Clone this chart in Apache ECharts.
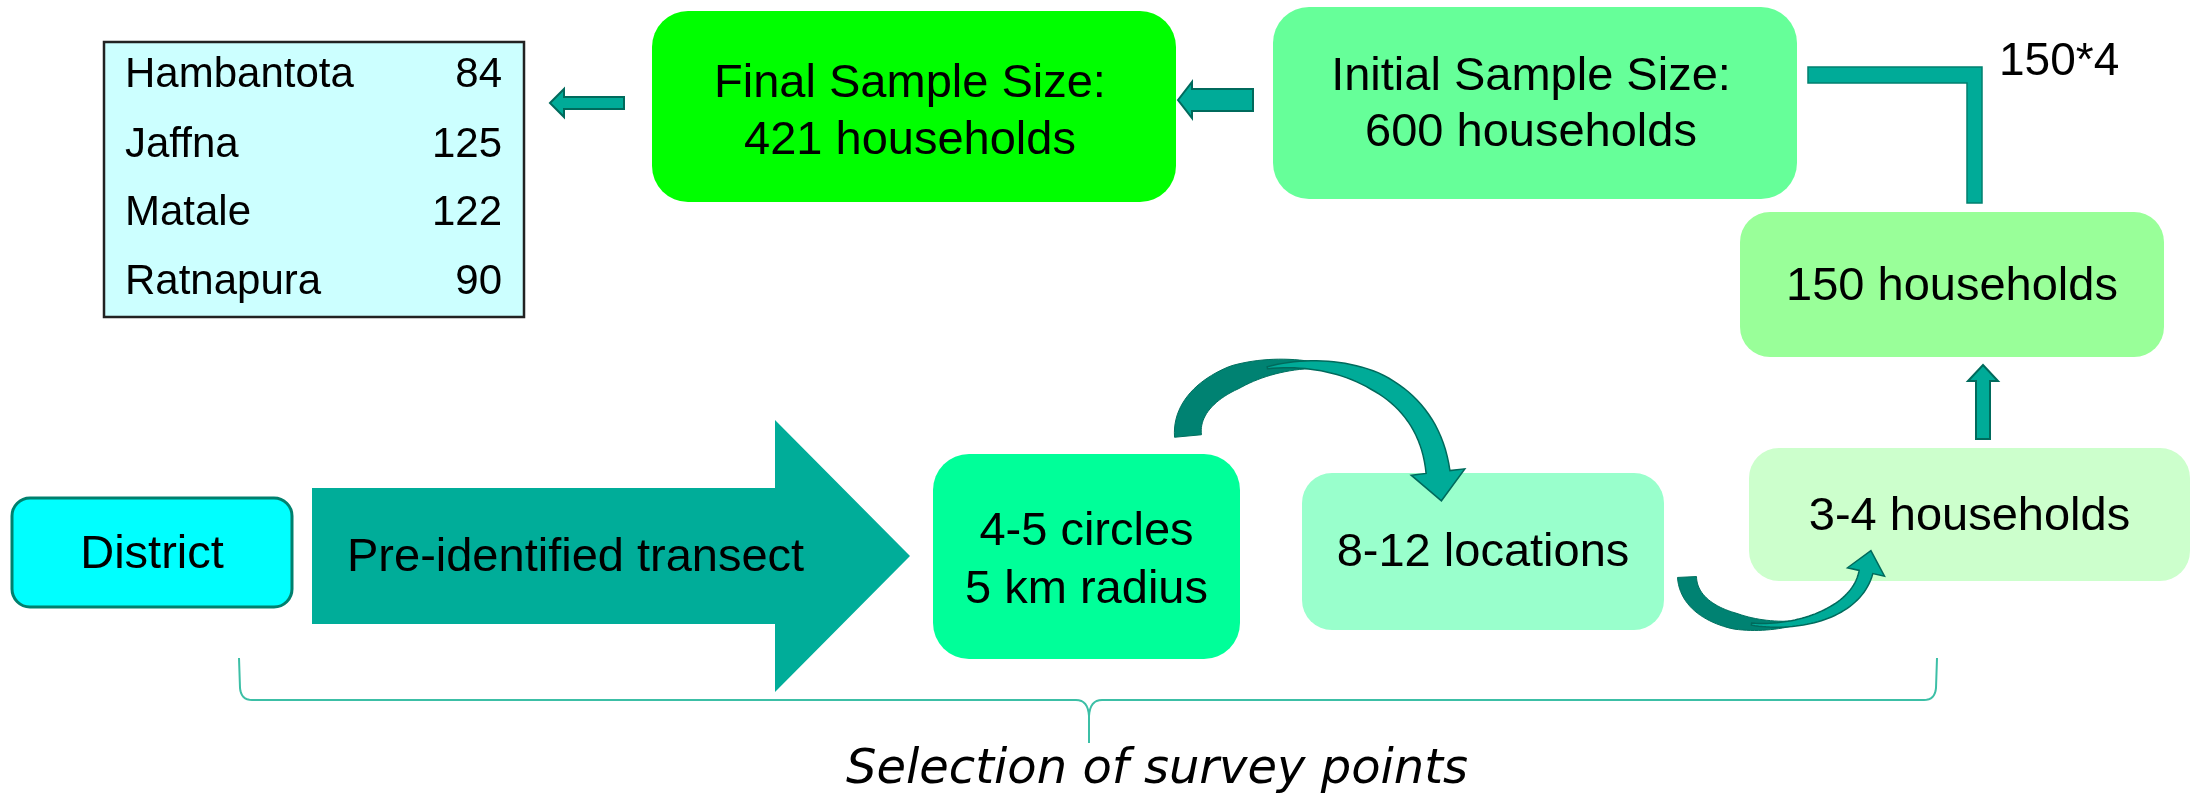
<!DOCTYPE html>
<html lang="en">
<head>
<meta charset="UTF-8">
<script src="https://cdn.jsdelivr.net/npm/echarts@6/dist/echarts.min.js"></script>
<style>
    html, body { margin: 0; padding: 0; background: #fff; }
    #main { width: 2193px; height: 796px; }
</style>
</head>
<body>
<div id="main"></div>
<script type="text/javascript">
// final sample per district
var districts = ['Hambantota', 'Jaffna', 'Matale', 'Ratnapura'];
var finalCounts = [84, 125, 122, 90];

// flow steps
var stepNames = ['district', 'circles', 'locations', 'hh34', 'hh150', 'initial', 'final'];
var stepLabels = ['District', '4-5 circles\n5 km radius', '8-12 locations', '3-4 households',
    '150 households', 'Initial Sample Size:\n600 households', 'Final Sample Size:\n421 households'];
var transectLabel = 'Pre-identified transect';
var multiplierLabel = '150*4';
var braceLabel = 'Selection of survey points';

// layout (pixels)
var boxLayout = {
    district:  { x: 12,   y: 498, w: 280, h: 109, r: 18, fill: '#00ffff', stroke: '#00806e', ty: [555] },
    circles:   { x: 933,  y: 454, w: 307, h: 205, r: 36, fill: '#00ff99', ty: [532, 590] },
    locations: { x: 1302, y: 473, w: 362, h: 157, r: 30, fill: '#99ffcc', ty: [553] },
    hh34:      { x: 1749, y: 448, w: 441, h: 133, r: 30, fill: '#ccffcc', ty: [517] },
    hh150:     { x: 1740, y: 212, w: 424, h: 145, r: 30, fill: '#99ff99', ty: [287] },
    initial:   { x: 1273, y: 7,   w: 524, h: 192, r: 36, fill: '#66ff99', ty: [77, 133] },
    final:     { x: 652,  y: 11,  w: 524, h: 191, r: 36, fill: '#00ff00', ty: [84, 141] }
};
var FONT = '"Liberation Sans", Arial, sans-serif';
var TEAL = '#00ab98';
var TEAL_DARK = '#006a5c';
var TEAL_SHADE = '#008272';

function leftArrow(tipX, baseX, endX, cy, sh, hh) {
    return [[tipX, cy], [baseX, cy - hh], [baseX, cy - sh], [endX, cy - sh],
        [endX, cy + sh], [baseX, cy + sh], [baseX, cy + hh]];
}
function upArrow(cx, tipY, baseY, endY, sh, hh) {
    return [[cx, tipY], [cx + hh, baseY], [cx + sh, baseY], [cx + sh, endY],
        [cx - sh, endY], [cx - sh, baseY], [cx - hh, baseY]];
}
function cubic(P, t) {
    var u = 1 - t;
    return [
        u * u * u * P[0][0] + 3 * u * u * t * P[1][0] + 3 * u * t * t * P[2][0] + t * t * t * P[3][0],
        u * u * u * P[0][1] + 3 * u * u * t * P[1][1] + 3 * u * t * t * P[2][1] + t * t * t * P[3][1]
    ];
}
function cubicD(P, t) {
    var u = 1 - t, r = [];
    for (var k = 0; k < 2; k++) {
        r[k] = 3 * u * u * (P[1][k] - P[0][k]) + 6 * u * t * (P[2][k] - P[1][k]) + 3 * t * t * (P[3][k] - P[2][k]);
    }
    var l = Math.sqrt(r[0] * r[0] + r[1] * r[1]);
    return [r[0] / l, r[1] / l];
}
function interp(keys, t) {
    for (var i = 1; i < keys.length; i++) {
        if (t <= keys[i][0]) {
            var a = keys[i - 1], b = keys[i];
            return a[1] + (b[1] - a[1]) * (t - a[0]) / (b[0] - a[0]);
        }
    }
    return keys[keys.length - 1][1];
}
// piece of a curved ribbon along a cubic bezier, optional arrow head at t=1
function ribbon(P, t0, t1, widths, head) {
    var left = [], right = [], n = 40;
    for (var i = 0; i <= n; i++) {
        var t = t0 + (t1 - t0) * i / n, p = cubic(P, t), d = cubicD(P, t);
        var w = interp(widths, t) / 2;
        left.push([p[0] - d[1] * w, p[1] + d[0] * w]);
        right.push([p[0] + d[1] * w, p[1] - d[0] * w]);
    }
    var mid = [];
    if (head) {
        var e = P[3], de = cubicD(P, 1);
        mid = [[e[0] - de[1] * head[0] / 2, e[1] + de[0] * head[0] / 2],
            [e[0] + de[0] * head[1], e[1] + de[1] * head[1]],
            [e[0] + de[1] * head[0] / 2, e[1] - de[0] * head[0] / 2]];
    }
    return left.concat(mid).concat(right.reverse());
}
function quad(p0, c, p1) {
    var pts = [];
    for (var i = 0; i <= 8; i++) {
        var t = i / 8, u = 1 - t;
        pts.push([u * u * p0[0] + 2 * u * t * c[0] + t * t * p1[0], u * u * p0[1] + 2 * u * t * c[1] + t * t * p1[1]]);
    }
    return pts;
}

var elements = [];

// table of districts
elements.push({ type: 'rect', shape: { x: 104, y: 42, width: 420, height: 275 },
    style: { fill: '#ccffff', stroke: '#222', lineWidth: 2.5 } });
var rowY = [75, 145, 213, 282];
districts.forEach(function (d, i) {
    elements.push({ type: 'text', style: { text: d, x: 125, y: rowY[i], font: '42px ' + FONT,
        fill: '#000', textAlign: 'left', textVerticalAlign: 'middle' } });
    elements.push({ type: 'text', style: { text: String(finalCounts[i]), x: 502, y: rowY[i], font: '42px ' + FONT,
        fill: '#000', textAlign: 'right', textVerticalAlign: 'middle' } });
});

// big transect arrow
elements.push({ type: 'polygon',
    shape: { points: [[312, 488], [775, 488], [775, 420], [910, 556], [775, 692], [775, 624], [312, 624]] },
    style: { fill: '#00ad99' } });
elements.push({ type: 'text', style: { text: transectLabel, x: 347, y: 558, font: '47px ' + FONT,
    fill: '#000', textAlign: 'left', textVerticalAlign: 'middle' } });

// boxes
stepNames.forEach(function (name, i) {
    var b = boxLayout[name];
    elements.push({ type: 'rect', shape: { x: b.x, y: b.y, width: b.w, height: b.h, r: b.r },
        style: { fill: b.fill, stroke: b.stroke || null, lineWidth: b.stroke ? 3 : 0 } });
    var dx = (name === 'initial' || name === 'final') ? -4 : 0;
    stepLabels[i].split('\n').forEach(function (line, j) {
        elements.push({ type: 'text', style: { text: line, x: b.x + b.w / 2 + dx, y: b.ty[j],
            font: '47px ' + FONT, fill: '#000', textAlign: 'center', textVerticalAlign: 'middle' } });
    });
});

// straight arrows
var arrowStyle = { fill: TEAL, stroke: TEAL_DARK, lineWidth: 2 };
elements.push({ type: 'polygon', shape: { points: leftArrow(550, 564, 624, 103, 6, 14) }, style: arrowStyle });
elements.push({ type: 'polygon', shape: { points: leftArrow(1178, 1192, 1253, 100, 11, 18) }, style: arrowStyle });
elements.push({ type: 'polygon', shape: { points: upArrow(1983, 365, 381, 439, 7, 15) }, style: arrowStyle });

// elbow connector with label
elements.push({ type: 'polygon',
    shape: { points: [[1808, 67], [1982, 67], [1982, 203], [1967, 203], [1967, 83], [1808, 83]] },
    style: { fill: TEAL, stroke: '#00806f', lineWidth: 1.5 } });
elements.push({ type: 'text', style: { text: multiplierLabel, x: 1999, y: 62, font: '46px ' + FONT,
    fill: '#000', textAlign: 'left', textVerticalAlign: 'middle' } });

// curved arrows: dark twisted tail, lighter front with head
var curve1 = [[1188, 436], [1180, 350], [1420, 320], [1438, 472]];
elements.push({ type: 'polygon',
    shape: { points: ribbon(curve1, 0, 0.56, [[0, 27], [0.3, 24], [0.56, 4]]) },
    style: { fill: TEAL_SHADE, stroke: '#00705f', lineWidth: 1 } });
elements.push({ type: 'polygon',
    shape: { points: ribbon(curve1, 0.4, 1, [[0.4, 2], [0.7, 18], [1, 24]], [54, 29]) },
    style: { fill: TEAL, stroke: TEAL_DARK, lineWidth: 1.5 } });

var curve2 = [[1687, 577], [1690, 642], [1850, 642], [1866, 572]];
elements.push({ type: 'polygon',
    shape: { points: ribbon(curve2, 0, 0.62, [[0, 19], [0.35, 16], [0.62, 3]]) },
    style: { fill: TEAL_SHADE, stroke: '#00705f', lineWidth: 1 } });
elements.push({ type: 'polygon',
    shape: { points: ribbon(curve2, 0.42, 1, [[0.42, 2], [0.75, 10], [1, 14]], [38, 22]) },
    style: { fill: TEAL, stroke: TEAL_DARK, lineWidth: 1.5 } });

// brace
var braceColor = '#3cbfa6';
var leftHalf = [[239, 658]].concat(quad([240, 688], [241, 700], [252, 700])).concat(quad([1076, 700], [1088, 700], [1089, 716]));
leftHalf.push([1089, 743]);
var rightHalf = [[1089, 716]].concat(quad([1089, 716], [1090, 700], [1102, 700])).concat(quad([1924, 700], [1935, 700], [1936, 688]));
rightHalf.push([1937, 658]);
elements.push({ type: 'polyline', shape: { points: leftHalf }, style: { stroke: braceColor, lineWidth: 2, fill: null } });
elements.push({ type: 'polyline', shape: { points: rightHalf }, style: { stroke: braceColor, lineWidth: 2, fill: null } });
elements.push({ type: 'text', style: { text: braceLabel, x: 1157, y: 771, font: 'italic 48px "DejaVu Sans", sans-serif',
    fill: '#000', textAlign: 'center', textVerticalAlign: 'middle' } });

elements.forEach(function (el) { el.silent = true; });

var myChart = echarts.init(document.getElementById('main'));
myChart.setOption({
    backgroundColor: '#ffffff',
    animation: false,
    graphic: { elements: elements }
});
</script>
</body>
</html>
